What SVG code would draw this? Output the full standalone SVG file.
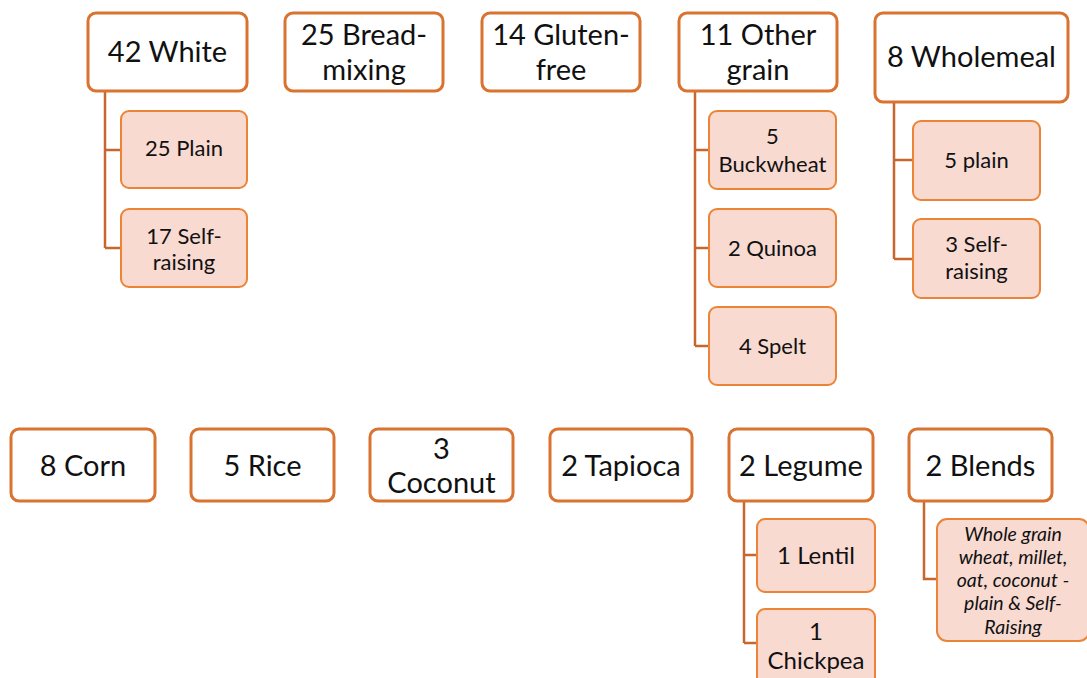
<svg xmlns="http://www.w3.org/2000/svg" width="1087" height="678" viewBox="0 0 1087 678">
<style>
.p{fill:#fff;stroke:#DA7230;stroke-width:3}
.c{fill:#F8DAD1;stroke:#EC8438;stroke-width:2}
.l{fill:none;stroke:#C5672F;stroke-width:2.5}
text{font-family:Lato,"Liberation Sans",sans-serif;fill:#111;text-anchor:middle}
.pt{font-size:29px}
.ct{font-size:22px}
.ct2{font-size:24px}
.it{font-size:19.5px;font-style:italic}
</style>
<rect width="1087" height="678" fill="#fff"/>
<g id="connectors">
<path class="l" d="M105 91V248M105 150H121M105 248H121"/>
<path class="l" d="M894 102V259M894 160H913M894 259H913"/>
<path class="l" d="M695 91V346M695 150H709M695 248H709M695 346H709"/>
<path class="l" d="M744 502V643M744 555H757M744 643H757"/>
<path class="l" d="M924 502V579H937"/>
</g>
<g id="white"><rect class="p" x="88" y="13" width="159" height="78" rx="8"/><text class="pt" x="167.5" y="62">42 White</text></g>
<g id="bread"><rect class="p" x="285" y="13" width="158" height="78" rx="8"/><text class="pt" x="364" y="45">25 Bread-</text><text class="pt" x="364" y="80">mixing</text></g>
<g id="gluten"><rect class="p" x="482" y="13" width="158" height="78" rx="8"/><text class="pt" x="561" y="45">14 Gluten-</text><text class="pt" x="561" y="80">free</text></g>
<g id="other"><rect class="p" x="679" y="13" width="158" height="78" rx="8"/><text class="pt" x="758" y="45">11 Other</text><text class="pt" x="758" y="80">grain</text></g>
<g id="wholemeal"><rect class="p" x="875" y="13" width="193" height="89" rx="8"/><text class="pt" x="971.5" y="67">8 Wholemeal</text></g>
<g id="plain"><rect class="c" x="121" y="111" width="126" height="77" rx="8"/><text class="ct" x="184" y="156">25 Plain</text></g>
<g id="selfr"><rect class="c" x="121" y="209" width="126" height="78" rx="8"/><text class="ct" x="184" y="244">17 Self-</text><text class="ct" x="184" y="270">raising</text></g>
<g id="wplain"><rect class="c" x="913" y="121" width="127" height="79" rx="8"/><text class="ct" x="976.5" y="168">5 plain</text></g>
<g id="wself"><rect class="c" x="913" y="219" width="127" height="79" rx="8"/><text class="ct" x="976.5" y="252">3 Self-</text><text class="ct" x="976.5" y="279">raising</text></g>
<g id="buck"><rect class="c" x="709" y="111" width="127" height="78" rx="8"/><text class="ct" x="772.5" y="144">5</text><text class="ct" x="772.5" y="172">Buckwheat</text></g>
<g id="quinoa"><rect class="c" x="709" y="209" width="127" height="78" rx="8"/><text class="ct" x="772.5" y="256">2 Quinoa</text></g>
<g id="spelt"><rect class="c" x="709" y="307" width="127" height="78" rx="8"/><text class="ct" x="772.5" y="354">4 Spelt</text></g>
<g id="corn"><rect class="p" x="11" y="429" width="144" height="72" rx="8"/><text class="pt" x="83" y="476">8 Corn</text></g>
<g id="rice"><rect class="p" x="191" y="429" width="143" height="72" rx="8"/><text class="pt" x="262.5" y="476">5 Rice</text></g>
<g id="coconut"><rect class="p" x="370" y="429" width="143" height="72" rx="8"/><text class="pt" x="441.5" y="459">3</text><text class="pt" x="441.5" y="493">Coconut</text></g>
<g id="tapioca"><rect class="p" x="550" y="429" width="142" height="72" rx="8"/><text class="pt" x="621" y="476">2 Tapioca</text></g>
<g id="legume"><rect class="p" x="729" y="429" width="144" height="72" rx="8"/><text class="pt" x="801" y="476">2 Legume</text></g>
<g id="blends"><rect class="p" x="909" y="429" width="143" height="72" rx="8"/><text class="pt" x="980.5" y="476">2 Blends</text></g>
<g id="lentil"><rect class="c" x="757" y="519" width="118" height="73" rx="8"/><text class="ct2" x="816" y="564">1 Lentil</text></g>
<g id="chickpea"><rect class="c" x="757" y="609" width="118" height="80" rx="8"/><text class="ct2" x="816" y="640">1</text><text class="ct2" x="816" y="669">Chickpea</text></g>
<g id="blendmix"><rect class="c" x="937" y="519" width="152" height="122" rx="10"/>
<text class="it" x="1013" y="541">Whole grain</text><text class="it" x="1013" y="564">wheat, millet,</text><text class="it" x="1013" y="587">oat, coconut -</text><text class="it" x="1013" y="610">plain &amp; Self-</text><text class="it" x="1013" y="634">Raising</text></g>
</svg>
